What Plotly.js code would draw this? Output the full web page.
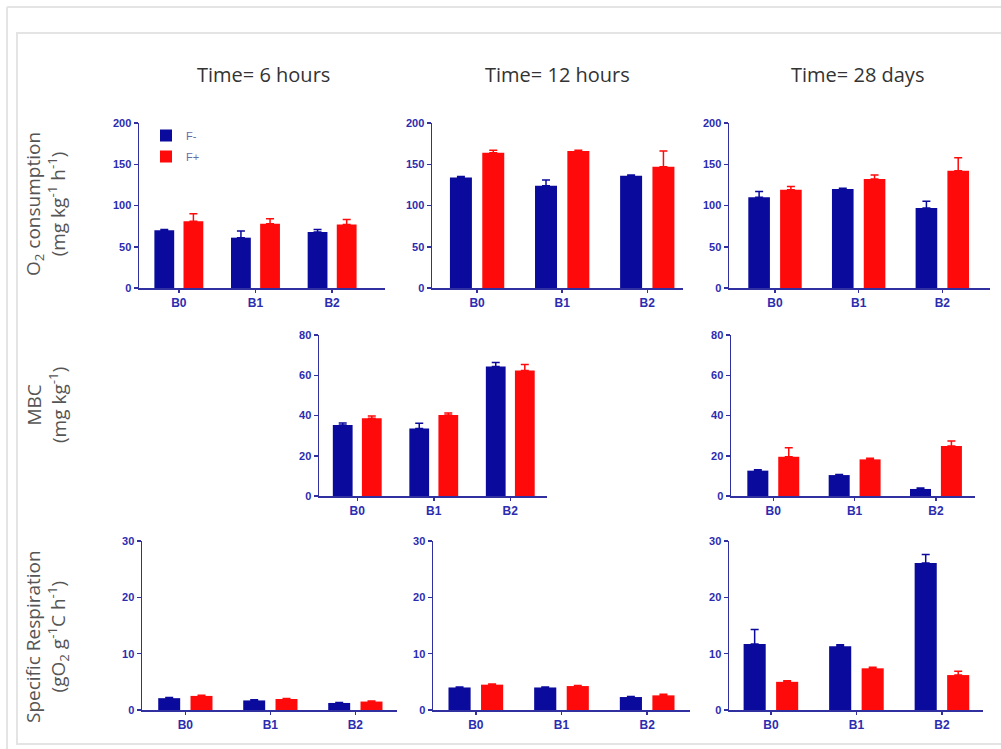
<!DOCTYPE html>
<html>
<head>
<meta charset="utf-8">
<script src="https://cdn.plot.ly/plotly-3.0.1.min.js"></script>
<style>html,body{margin:0;padding:0;background:#fff;}#chart{width:1001px;height:749px;}</style>
</head>
<body>
<div id="chart"></div>
<script>
// ---- data ----
var categories = ['B0', 'B1', 'B2'];
var seriesNames = ['F-', 'F+'];

var o2_6h_fminus = [70, 61, 68];
var o2_6h_fminus_err = [1, 8, 3];
var o2_6h_fplus = [81, 78, 77];
var o2_6h_fplus_err = [9, 6, 6];

var o2_12h_fminus = [134, 124, 136];
var o2_12h_fminus_err = [1, 7, 1];
var o2_12h_fplus = [164, 166, 147];
var o2_12h_fplus_err = [3, 1, 19];

var o2_28d_fminus = [110, 120, 97];
var o2_28d_fminus_err = [7, 1, 8];
var o2_28d_fplus = [119, 132, 142];
var o2_28d_fplus_err = [4, 5, 16];

var mbc_12h_fminus = [35.3, 33.6, 64.3];
var mbc_12h_fminus_err = [1, 2.5, 2];
var mbc_12h_fplus = [38.6, 40.2, 62.3];
var mbc_12h_fplus_err = [1.2, 1, 3];

var mbc_28d_fminus = [12.6, 10.4, 3.5];
var mbc_28d_fminus_err = [0.5, 0.3, 0.5];
var mbc_28d_fplus = [19.5, 18.2, 24.8];
var mbc_28d_fplus_err = [4.5, 0.5, 2.5];

var sr_6h_fminus = [2.1, 1.7, 1.25];
var sr_6h_fminus_err = [0.1, 0.1, 0.1];
var sr_6h_fplus = [2.5, 1.95, 1.5];
var sr_6h_fplus_err = [0.1, 0.1, 0.1];

var sr_12h_fminus = [4.0, 4.0, 2.3];
var sr_12h_fminus_err = [0.1, 0.1, 0.1];
var sr_12h_fplus = [4.5, 4.25, 2.6];
var sr_12h_fplus_err = [0.1, 0.1, 0.2];

var sr_28d_fminus = [11.7, 11.3, 26.1];
var sr_28d_fminus_err = [2.6, 0.3, 1.5];
var sr_28d_fplus = [5.0, 7.4, 6.2];
var sr_28d_fplus_err = [0.2, 0.2, 0.7];

var timeTitles = ['Time= 6 hours', 'Time= 12 hours', 'Time= 28 days'];
var rowTitles = [
  'O<sub>2</sub> consumption<br>(mg kg<sup>-1</sup> h<sup>-1</sup>)',
  'MBC<br>(mg kg<sup>-1</sup>)',
  'Specific Respiration<br>(gO<sub>2</sub> g<sup>-1</sup>C h<sup>-1</sup>)'
];

// ---- styling / layout ----
var W = 1001, H = 749;
var BLUE = '#0a0a9c', RED = '#ff0a0a', AXIS = '#3030a0', TICKC = '#2c2cb0';

var panels = [
  {fm: o2_6h_fminus, fme: o2_6h_fminus_err, fp: o2_6h_fplus, fpe: o2_6h_fplus_err, box: [139, 385, 123, 288], yr: [0, 200], dt: 50, xr: [-0.52, 2.69], legend: true},
  {fm: o2_12h_fminus, fme: o2_12h_fminus_err, fp: o2_12h_fplus, fpe: o2_12h_fplus_err, box: [432, 683, 123, 288], yr: [0, 200], dt: 50, xr: [-0.53, 2.42]},
  {fm: o2_28d_fminus, fme: o2_28d_fminus_err, fp: o2_28d_fplus, fpe: o2_28d_fplus_err, box: [729, 990, 123, 288], yr: [0, 200], dt: 50, xr: [-0.55, 2.57]},
  {fm: mbc_12h_fminus, fme: mbc_12h_fminus_err, fp: mbc_12h_fplus, fpe: mbc_12h_fplus_err, box: [319, 547, 335, 496], yr: [0, 80], dt: 20, xr: [-0.5, 2.48]},
  {fm: mbc_28d_fminus, fme: mbc_28d_fminus_err, fp: mbc_28d_fplus, fpe: mbc_28d_fplus_err, box: [731, 975, 335, 496], yr: [0, 80], dt: 20, xr: [-0.52, 2.48]},
  {fm: sr_6h_fminus, fme: sr_6h_fminus_err, fp: sr_6h_fplus, fpe: sr_6h_fplus_err, box: [142, 397, 541, 710], yr: [0, 30], dt: 10, xr: [-0.51, 2.49]},
  {fm: sr_12h_fminus, fme: sr_12h_fminus_err, fp: sr_12h_fplus, fpe: sr_12h_fplus_err, box: [433, 690, 541, 710], yr: [0, 30], dt: 10, xr: [-0.5, 2.5]},
  {fm: sr_28d_fminus, fme: sr_28d_fminus_err, fp: sr_28d_fplus, fpe: sr_28d_fplus_err, box: [729, 983, 541, 710], yr: [0, 30], dt: 10, xr: [-0.49, 2.48]}
];

var data = [];
var layout = {
  width: W, height: H,
  margin: {l: 0, r: 0, t: 0, b: 0},
  paper_bgcolor: '#ffffff', plot_bgcolor: 'rgba(0,0,0,0)',
  barmode: 'group', bargap: 0.24, bargroupgap: 0.32,
  showlegend: true,
  legend: {
    x: 146 / W, y: 1 - 121 / H, xanchor: 'left', yanchor: 'top',
    bgcolor: 'rgba(0,0,0,0)', tracegroupgap: 2,
    font: {family: 'Arial, sans-serif', size: 11, color: '#6a6aa8'},
    itemwidth: 30
  },
  annotations: [], shapes: []
};

function zeros(n) { var a = []; for (var i = 0; i < n; i++) a.push(0); return a; }

panels.forEach(function (p, i) {
  var n = i + 1;
  var xa = 'x' + (n === 1 ? '' : n), ya = 'y' + (n === 1 ? '' : n);
  var xk = 'xaxis' + (n === 1 ? '' : n), yk = 'yaxis' + (n === 1 ? '' : n);
  var vals = [[p.fm, p.fme, BLUE], [p.fp, p.fpe, RED]];
  vals.forEach(function (v, j) {
    data.push({
      type: 'bar', x: categories, y: v[0], name: seriesNames[j],
      xaxis: xa, yaxis: ya,
      marker: {color: v[2], line: {width: 0}},
      error_y: {type: 'data', symmetric: false, array: v[1], arrayminus: zeros(v[1].length), color: v[2], thickness: 1.5, width: 4},
      showlegend: !!p.legend, legendgroup: seriesNames[j],
      hoverinfo: 'x+y+name'
    });
  });
  layout[xk] = {
    domain: [p.box[0] / W, p.box[1] / W], anchor: ya,
    type: 'category', range: p.xr,
    showline: true, linecolor: AXIS, linewidth: 1.5,
    ticks: 'outside', ticklen: 3, tickwidth: 1.5, tickcolor: AXIS,
    showgrid: false, zeroline: false,
    tickfont: {family: 'Arial, sans-serif', size: 12, color: TICKC, weight: 'bold'},
    fixedrange: true
  };
  layout[yk] = {
    domain: [1 - p.box[3] / H, 1 - p.box[2] / H], anchor: xa,
    range: p.yr, dtick: p.dt, tick0: 0,
    showline: true, linecolor: AXIS, linewidth: 1.5,
    ticks: 'outside', ticklen: 4, tickwidth: 1.5, tickcolor: AXIS,
    showgrid: false, zeroline: false,
    tickfont: {family: 'Arial, sans-serif', size: 11, color: TICKC, weight: 'bold'},
    fixedrange: true
  };
});

// column titles
var colX = [263, 557, 857];
timeTitles.forEach(function (t, i) {
  layout.annotations.push({
    text: t, xref: 'paper', yref: 'paper', x: colX[i] / W, y: 1 - 75 / H,
    xanchor: 'center', yanchor: 'middle', showarrow: false,
    font: {family: 'Open Sans, sans-serif', size: 20, color: '#333333'}
  });
});

// row titles
var rowY = [204, 405, 637];
rowTitles.forEach(function (t, i) {
  layout.annotations.push({
    text: t, xref: 'paper', yref: 'paper', x: 46 / W, y: 1 - rowY[i] / H,
    xanchor: 'center', yanchor: 'middle', showarrow: false, textangle: -90,
    font: {family: 'Open Sans, sans-serif', size: 19, color: '#555555'}
  });
});

// frame lines
var FR = '#e4e4e4';
layout.shapes.push(
  {type: 'line', xref: 'paper', yref: 'paper', x0: 7 / W, x1: 1, y0: 1 - 7 / H, y1: 1 - 7 / H, line: {color: FR, width: 2}},
  {type: 'line', xref: 'paper', yref: 'paper', x0: 7 / W, x1: 7 / W, y0: 1 - 7 / H, y1: 0, line: {color: FR, width: 2}},
  {type: 'rect', xref: 'paper', yref: 'paper', x0: 17 / W, x1: 1.01, y0: 1 - 744 / H, y1: 1 - 33 / H, line: {color: FR, width: 2}}
);

Plotly.newPlot('chart', data, layout, {displayModeBar: false, staticPlot: true});
</script>
</body>
</html>
